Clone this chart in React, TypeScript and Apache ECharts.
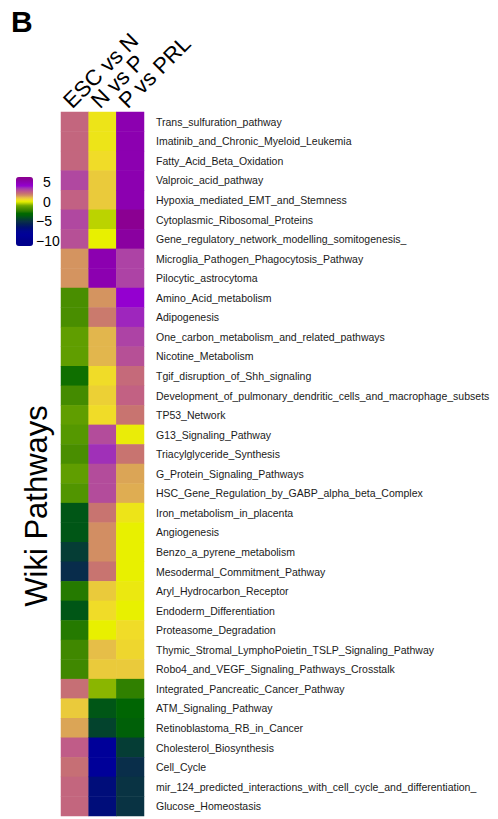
import React, { useEffect, useRef } from "react";
import * as echarts from "echarts";

const columns = ["ESC vs N", "N vs P", "P vs PRL"];

const pathways = [
  "Trans_sulfuration_pathway",
  "Imatinib_and_Chronic_Myeloid_Leukemia",
  "Fatty_Acid_Beta_Oxidation",
  "Valproic_acid_pathway",
  "Hypoxia_mediated_EMT_and_Stemness",
  "Cytoplasmic_Ribosomal_Proteins",
  "Gene_regulatory_network_modelling_somitogenesis_",
  "Microglia_Pathogen_Phagocytosis_Pathway",
  "Pilocytic_astrocytoma",
  "Amino_Acid_metabolism",
  "Adipogenesis",
  "One_carbon_metabolism_and_related_pathways",
  "Nicotine_Metabolism",
  "Tgif_disruption_of_Shh_signaling",
  "Development_of_pulmonary_dendritic_cells_and_macrophage_subsets",
  "TP53_Network",
  "G13_Signaling_Pathway",
  "Triacylglyceride_Synthesis",
  "G_Protein_Signaling_Pathways",
  "HSC_Gene_Regulation_by_GABP_alpha_beta_Complex",
  "Iron_metabolism_in_placenta",
  "Angiogenesis",
  "Benzo_a_pyrene_metabolism",
  "Mesodermal_Commitment_Pathway",
  "Aryl_Hydrocarbon_Receptor",
  "Endoderm_Differentiation",
  "Proteasome_Degradation",
  "Thymic_Stromal_LymphoPoietin_TSLP_Signaling_Pathway",
  "Robo4_and_VEGF_Signaling_Pathways_Crosstalk",
  "Integrated_Pancreatic_Cancer_Pathway",
  "ATM_Signaling_Pathway",
  "Retinoblastoma_RB_in_Cancer",
  "Cholesterol_Biosynthesis",
  "Cell_Cycle",
  "mir_124_predicted_interactions_with_cell_cycle_and_differentiation_",
  "Glucose_Homeostasis",
];

const escVsN = [
  2.3, 2.3, 2.3, 3.0, 2.4, 3.0, 2.8, 1.5, 1.5, -1.8, -1.8, -1.3, -1.3, -2.8,
  -1.9, -1.3, -1.5, -1.8, -1.3, -1.6, -3.8, -3.8, -4.6, -5.2, -2.5, -3.8, -2.5,
  -2.0, -2.0, 2.1, 0.8, 1.3, 2.5, 2.1, 2.3, 2.3,
];

const nVsP = [
  0.3, 0.3, 0.5, 0.8, 0.8, -0.4, 0.0, 5.0, 5.0, 1.5, 1.9, 1.1, 1.1, 0.5, 0.7,
  0.5, 2.9, 3.5, 2.9, 2.9, 2.0, 1.6, 1.6, 2.0, 0.8, 0.5, 0.0, 1.0, 0.8, -0.8,
  -3.8, -4.4, -8.5, -8.5, -6.8, -6.8,
];

const pVsPRL = [
  5.0, 5.0, 5.0, 5.0, 5.0, 6.0, 5.5, 3.1, 3.1, 4.0, 3.6, 3.1, 2.8, 2.2, 2.4,
  2.0, 0.1, 2.0, 1.3, 1.2, 0.3, 0.0, 0.0, 0.0, 0.2, 0.0, 0.5, 0.6, 0.8, -2.3,
  -3.2, -3.5, -4.6, -5.1, -4.9, -4.9,
];

const legendTicks = [5, 0, -5, -10];
const scaleMin = -11.25;
const scaleMax = 6.25;

const colorAnchors: [number, string][] = [
  [-11.25, "#00008B"],
  [-9.5, "#00008F"],
  [-8.5, "#000099"],
  [-7.5, "#000590"],
  [-6.5, "#001070"],
  [-5.5, "#052550"],
  [-5.0, "#0A3048"],
  [-4.5, "#044030"],
  [-4.0, "#005020"],
  [-3.5, "#006008"],
  [-3.0, "#006800"],
  [-2.5, "#257A00"],
  [-2.0, "#408800"],
  [-1.5, "#559800"],
  [-1.0, "#70A800"],
  [-0.5, "#B0CC00"],
  [0.0, "#E8F000"],
  [0.5, "#F0DC28"],
  [1.0, "#E6BE48"],
  [1.5, "#D49460"],
  [2.0, "#C87470"],
  [2.5, "#C05C88"],
  [3.0, "#B048A0"],
  [3.5, "#A030B8"],
  [4.0, "#9400D0"],
  [4.5, "#9000C0"],
  [5.0, "#8C00B0"],
  [5.5, "#8A00A0"],
  [6.25, "#8B008B"],
];

function hexToRgb(h: string) {
  return [1, 3, 5].map((i) => parseInt(h.slice(i, i + 2), 16));
}

function sampleColors(n: number): string[] {
  const out: string[] = [];
  for (let k = 0; k < n; k++) {
    const v = scaleMin + ((scaleMax - scaleMin) * k) / (n - 1);
    let i = 0;
    while (i < colorAnchors.length - 2 && colorAnchors[i + 1][0] < v) i++;
    const [v0, c0] = colorAnchors[i];
    const [v1, c1] = colorAnchors[i + 1];
    const t = Math.max(0, Math.min(1, (v - v0) / (v1 - v0)));
    const a = hexToRgb(c0);
    const b = hexToRgb(c1);
    const rgb = a.map((x, j) => Math.round(x + (b[j] - x) * t));
    out.push(`rgb(${rgb[0]},${rgb[1]},${rgb[2]})`);
  }
  return out;
}

const FONT = "Liberation Sans, Arial, Helvetica, sans-serif";

export default function App() {
  const ref = useRef<HTMLDivElement>(null);

  useEffect(() => {
    document.body.style.margin = "0";
    if (!ref.current) return;
    const chart = echarts.init(ref.current, undefined, { renderer: "svg" });

    const seriesCols = [escVsN, nVsP, pVsPRL];
    const data: [number, number, number][] = [];
    seriesCols.forEach((col, i) => {
      col.forEach((v, j) => data.push([i, j, v]));
    });

    const legendTop = 177;
    const legendH = 69;
    const legendLeft = 16;
    const legendW = 17;

    const tickTexts = legendTicks.map((v) => ({
      type: "text",
      x: v < 0 ? 36 : 43,
      y: legendTop + ((scaleMax - v) / (scaleMax - scaleMin)) * legendH,
      style: {
        text: v < 0 ? "\u2212" + Math.abs(v) : String(v),
        fontSize: 14,
        fontFamily: FONT,
        fill: "#000",
        textAlign: "left",
        textVerticalAlign: "middle",
        verticalAlign: "middle",
      },
    }));

    chart.setOption({
      animation: false,
      backgroundColor: "#ffffff",
      grid: { left: 61, top: 112, width: 83, height: 704 },
      xAxis: {
        type: "category",
        data: columns,
        position: "top",
        axisLine: { show: false },
        axisTick: { show: false },
        splitLine: { show: false },
        axisLabel: {
          rotate: -45,
          interval: 0,
          fontSize: 22,
          color: "#000",
          fontFamily: FONT,
          margin: 0,
          verticalAlign: "bottom",
        },
      },
      yAxis: {
        type: "category",
        data: pathways,
        inverse: true,
        position: "right",
        axisLine: { show: false },
        axisTick: { show: false },
        splitLine: { show: false },
        axisLabel: {
          interval: 0,
          fontSize: 10.5,
          color: "#1a1a1a",
          fontFamily: FONT,
          margin: 12,
        },
      },
      visualMap: {
        type: "continuous",
        min: scaleMin,
        max: scaleMax,
        calculable: false,
        show: true,
        left: legendLeft,
        top: legendTop,
        itemWidth: legendW,
        itemHeight: legendH,
        padding: 0,
        dimension: 2,
        inRange: { color: sampleColors(71) },
        hoverLink: false,
      },
      graphic: [
        {
          type: "text",
          x: 11,
          y: 6,
          style: {
            text: "B",
            fontSize: 30,
            fontWeight: "bold",
            fontFamily: FONT,
            fill: "#000",
          },
        },
        {
          type: "text",
          x: 36,
          y: 506,
          rotation: Math.PI / 2,
          style: {
            text: "Wiki Pathways",
            fontSize: 31,
            fontFamily: FONT,
            fill: "#000",
            textAlign: "center",
            textVerticalAlign: "middle",
            verticalAlign: "middle",
          },
        },
        ...tickTexts,
      ],
      series: [
        {
          type: "heatmap",
          data,
          itemStyle: { borderWidth: 0 },
          emphasis: { disabled: true },
          progressive: 0,
        },
      ],
    });

    return () => chart.dispose();
  }, []);

  return <div ref={ref} style={{ width: 498, height: 819 }} />;
}
